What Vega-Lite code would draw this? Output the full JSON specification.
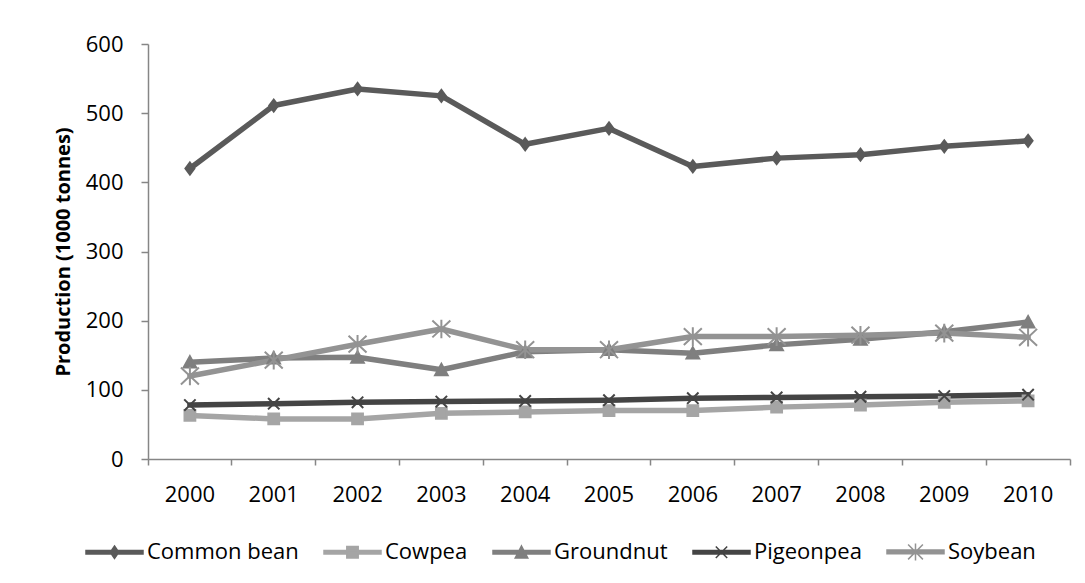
{
  "$schema": "https://vega.github.io/schema/vega-lite/v6.json",
  "width": 922,
  "height": 415,
  "autosize": "none",
  "padding": {"left": 148, "top": 44, "right": 15, "bottom": 124},
  "background": "white",
  "config": {
    "font": "Open Sans",
    "view": {"stroke": null},
    "axis": {"domainColor": "#868686", "tickColor": "#868686", "domainWidth": 1.5, "tickWidth": 1.5, "labelColor": "#000000", "labelFontSize": 22, "grid": false}
  },
  "data": {"values": [
    {"year": "2000", "series": "Common bean", "value": 420},
    {"year": "2001", "series": "Common bean", "value": 511},
    {"year": "2002", "series": "Common bean", "value": 535},
    {"year": "2003", "series": "Common bean", "value": 525},
    {"year": "2004", "series": "Common bean", "value": 455},
    {"year": "2005", "series": "Common bean", "value": 478},
    {"year": "2006", "series": "Common bean", "value": 423},
    {"year": "2007", "series": "Common bean", "value": 435},
    {"year": "2008", "series": "Common bean", "value": 440},
    {"year": "2009", "series": "Common bean", "value": 452},
    {"year": "2010", "series": "Common bean", "value": 460},
    {"year": "2000", "series": "Cowpea", "value": 63},
    {"year": "2001", "series": "Cowpea", "value": 58},
    {"year": "2002", "series": "Cowpea", "value": 58},
    {"year": "2003", "series": "Cowpea", "value": 66},
    {"year": "2004", "series": "Cowpea", "value": 68},
    {"year": "2005", "series": "Cowpea", "value": 70},
    {"year": "2006", "series": "Cowpea", "value": 70},
    {"year": "2007", "series": "Cowpea", "value": 75},
    {"year": "2008", "series": "Cowpea", "value": 78},
    {"year": "2009", "series": "Cowpea", "value": 82},
    {"year": "2010", "series": "Cowpea", "value": 84},
    {"year": "2000", "series": "Groundnut", "value": 140},
    {"year": "2001", "series": "Groundnut", "value": 146},
    {"year": "2002", "series": "Groundnut", "value": 147},
    {"year": "2003", "series": "Groundnut", "value": 129},
    {"year": "2004", "series": "Groundnut", "value": 155},
    {"year": "2005", "series": "Groundnut", "value": 158},
    {"year": "2006", "series": "Groundnut", "value": 153},
    {"year": "2007", "series": "Groundnut", "value": 165},
    {"year": "2008", "series": "Groundnut", "value": 173},
    {"year": "2009", "series": "Groundnut", "value": 184},
    {"year": "2010", "series": "Groundnut", "value": 198},
    {"year": "2000", "series": "Pigeonpea", "value": 78},
    {"year": "2001", "series": "Pigeonpea", "value": 80},
    {"year": "2002", "series": "Pigeonpea", "value": 82},
    {"year": "2003", "series": "Pigeonpea", "value": 83},
    {"year": "2004", "series": "Pigeonpea", "value": 84},
    {"year": "2005", "series": "Pigeonpea", "value": 85},
    {"year": "2006", "series": "Pigeonpea", "value": 88},
    {"year": "2007", "series": "Pigeonpea", "value": 89},
    {"year": "2008", "series": "Pigeonpea", "value": 90},
    {"year": "2009", "series": "Pigeonpea", "value": 91},
    {"year": "2010", "series": "Pigeonpea", "value": 93},
    {"year": "2000", "series": "Soybean", "value": 120},
    {"year": "2001", "series": "Soybean", "value": 143},
    {"year": "2002", "series": "Soybean", "value": 166},
    {"year": "2003", "series": "Soybean", "value": 188},
    {"year": "2004", "series": "Soybean", "value": 158},
    {"year": "2005", "series": "Soybean", "value": 158},
    {"year": "2006", "series": "Soybean", "value": 177},
    {"year": "2007", "series": "Soybean", "value": 177},
    {"year": "2008", "series": "Soybean", "value": 179},
    {"year": "2009", "series": "Soybean", "value": 182},
    {"year": "2010", "series": "Soybean", "value": 176}
  ]},
  "encoding": {
    "x": {
      "field": "year", "type": "ordinal", "bandPosition": 0.5,
      "scale": {"type": "band", "paddingInner": 0, "paddingOuter": 0},
      "axis": {"title": null, "labelAngle": 0, "bandPosition": 1, "tickExtra": true, "tickSize": 6, "labelPadding": 19, "labelBaseline": "top"}
    },
    "y": {
      "field": "value", "type": "quantitative",
      "scale": {"domain": [0, 600], "nice": false},
      "axis": {"title": "Production (1000 tonnes)", "values": [0, 100, 200, 300, 400, 500, 600], "tickSize": 7, "labelPadding": 18, "titleFontSize": 20, "titleFontWeight": "bold", "titlePadding": 12, "titleColor": "#000000"}
    }
  },
  "layer": [
    {
      "mark": {"type": "line", "strokeWidth": 5.5, "strokeJoin": "round", "strokeCap": "round"},
      "encoding": {
        "stroke": {"field": "series", "type": "nominal",
          "scale": {"domain": ["Common bean", "Cowpea", "Groundnut", "Pigeonpea", "Soybean"], "range": ["#5a5a5a", "#a5a5a5", "#7f7f7f", "#444444", "#939393"]}}
      }
    },
    {
      "mark": {"type": "point", "filled": true, "opacity": 1, "size": 144, "strokeWidth": 2},
      "encoding": {
        "fill": {"field": "series", "type": "nominal",
          "scale": {"domain": ["Common bean", "Cowpea", "Groundnut", "Pigeonpea", "Soybean"], "range": ["#5a5a5a", "#a5a5a5", "#7f7f7f", "#444444", "#939393"]},
          "legend": {
            "title": null, "orient": "none", "legendX": -63, "legendY": 478, "direction": "horizontal", "columns": 5,
            "padding": 0, "symbolSize": 3249, "labelFontSize": 22, "labelColor": "#000000", "labelOffset": 3, "columnPadding": 22, "labelLimit": 300,
            "symbolType": {"expr": "datum.value === 'Common bean' ? 'M-1,-0.065H1V0.065H-1Z M0,-0.22L0.15,0L0,0.22L-0.15,0Z' : datum.value === 'Cowpea' ? 'M-1,-0.065H1V0.065H-1Z M-0.2,-0.2H0.2V0.2H-0.2Z' : datum.value === 'Groundnut' ? 'M-1,-0.065H1V0.065H-1Z M0,-0.22L0.22,0.2H-0.22Z' : datum.value === 'Pigeonpea' ? 'M-1,-0.065H1V0.065H-1Z M-0.2,-0.2L0.2,0.2M-0.2,0.2L0.2,-0.2' : 'M-1,-0.065H1V0.065H-1Z M-0.26,-0.26L0.26,0.26M-0.26,0.26L0.26,-0.26M0,-0.3V0.3'"},
            "encode": {"symbols": {"update": {
              "shape": {"value": {"expr": "datum.value === 'Common bean' ? 'M-1,-0.065H1V0.065H-1Z M0,-0.22L0.15,0L0,0.22L-0.15,0Z' : datum.value === 'Cowpea' ? 'M-1,-0.065H1V0.065H-1Z M-0.2,-0.2H0.2V0.2H-0.2Z' : datum.value === 'Groundnut' ? 'M-1,-0.065H1V0.065H-1Z M0,-0.22L0.22,0.2H-0.22Z' : datum.value === 'Pigeonpea' ? 'M-1,-0.065H1V0.065H-1Z M-0.2,-0.2L0.2,0.2M-0.2,0.2L0.2,-0.2' : 'M-1,-0.065H1V0.065H-1Z M-0.26,-0.26L0.26,0.26M-0.26,0.26L0.26,-0.26M0,-0.3V0.3'"}},
              "strokeWidth": {"value": 1.5},
              "opacity": {"value": 1}
            }}}
          }
        },
        "stroke": {"field": "series", "type": "nominal",
          "scale": {"domain": ["Common bean", "Cowpea", "Groundnut", "Pigeonpea", "Soybean"], "range": ["#5a5a5a", "#a5a5a5", "#7f7f7f", "#444444", "#939393"]}},
        "shape": {"field": "series", "type": "nominal", "legend": null,
          "scale": {"domain": ["Soybean", "Pigeonpea", "Groundnut", "Cowpea", "Common bean"], "range": [
            "M-1.5,-1.4L1.5,1.4M-1.5,1.4L1.5,-1.4M0,-1.55V1.55",
            "M-0.95,-0.95L0.95,0.95M-0.95,0.95L0.95,-0.95",
            "M0,-1L1.05,0.9H-1.05Z",
            "M-0.9,-0.9H0.9V0.9H-0.9Z",
            "M0,-1L0.75,0L0,1L-0.75,0Z"
          ]}}
      }
    }
  ]
}
